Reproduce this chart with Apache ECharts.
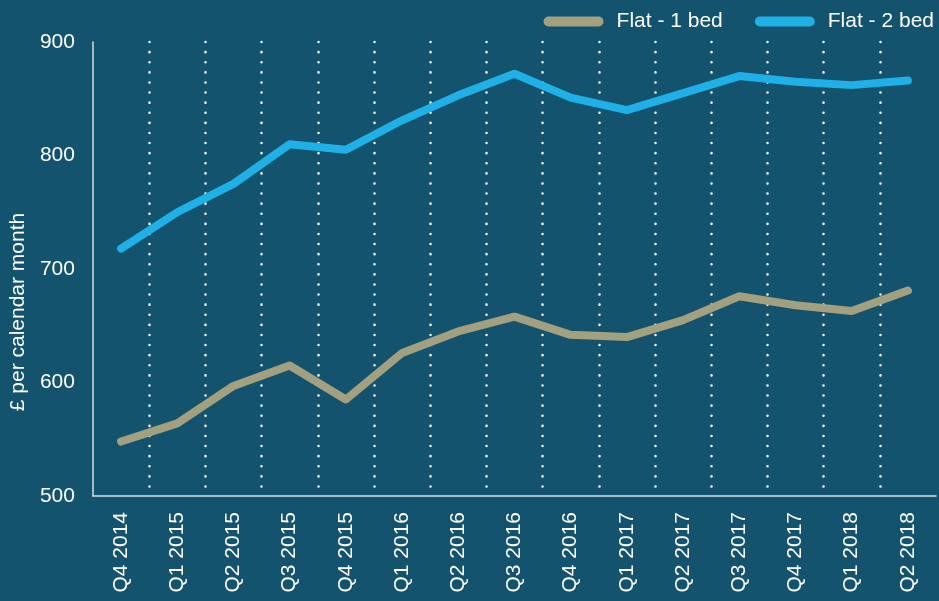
<!DOCTYPE html>
<html>
<head>
<meta charset="utf-8">
<script src="https://cdn.jsdelivr.net/npm/echarts@6/dist/echarts.min.js"></script>
<style>
html,body{margin:0;padding:0;background:#13536e;}
#main{width:939px;height:601px;}
</style>
</head>
<body>
<div id="main"></div>
<script>
var quarters = ['Q4 2014','Q1 2015','Q2 2015','Q3 2015','Q4 2015','Q1 2016','Q2 2016','Q3 2016','Q4 2016','Q1 2017','Q2 2017','Q3 2017','Q4 2017','Q1 2018','Q2 2018'];
var flat1 = [548, 564, 597, 615, 585, 626, 645, 658, 642, 640, 655, 676, 668, 663, 681];
var flat2 = [718, 750, 775, 810, 805, 831, 853, 872, 851, 840, 855, 870, 865, 862, 866];
var yTicks = [500, 600, 700, 800, 900];

var fontName = '"Liberation Sans", Arial, sans-serif';
var pill = 'path://M5,0 H55 A5,5 0 0 1 55,10 H5 A5,5 0 0 1 5,0 Z';
var myChart = echarts.init(document.getElementById('main'));

var option = {
	backgroundColor: '#13536e',
	textStyle: { fontFamily: fontName },
	legend: {
		right: 0,
		top: 6,
		itemWidth: 60,
		itemHeight: 10,
		itemGap: 32,
		icon: pill,
		textStyle: { color: '#ffffff', fontSize: 21, fontFamily: fontName, padding: [0, 0, 0, 8] },
		data: ['Flat - 1 bed', 'Flat - 2 bed']
	},
	grid: {
		left: 92,
		right: 3,
		top: 42,
		bottom: 105
	},
	xAxis: {
		type: 'category',
		boundaryGap: true,
		data: quarters,
		axisLine: { lineStyle: { color: '#d8dde0', width: 1.5 } },
		axisTick: { show: false },
		axisLabel: {
			color: '#ffffff',
			fontSize: 21,
			rotate: 90,
			margin: 16,
			interval: 0
		},
		splitLine: {
			show: true,
			interval: 0,
			showMinLine: false,
			showMaxLine: false,
			lineStyle: { color: '#ffffff', width: 2.5, type: [0.1, 10], cap: 'round' }
		}
	},
	yAxis: {
		type: 'value',
		min: yTicks[0],
		max: yTicks[yTicks.length - 1],
		interval: 100,
		name: '£ per calendar month',
		nameLocation: 'middle',
		nameGap: 62,
		nameRotate: 90,
		nameTextStyle: { color: '#ffffff', fontSize: 21, padding: [0, 0, 0, -86] },
		axisLine: { show: true, lineStyle: { color: '#d8dde0', width: 1.5 } },
		axisTick: { show: false },
		axisLabel: { color: '#ffffff', fontSize: 21, margin: 18 },
		splitLine: { show: false }
	},
	series: [
		{
			name: 'Flat - 1 bed',
			type: 'line',
			data: flat1,
			showSymbol: false,
			symbol: 'none',
			color: '#a3a080',
			lineStyle: { width: 8, cap: 'round', join: 'round', color: '#a3a080' }
		},
		{
			name: 'Flat - 2 bed',
			type: 'line',
			data: flat2,
			showSymbol: false,
			symbol: 'none',
			color: '#1eb0e6',
			lineStyle: { width: 8, cap: 'round', join: 'round', color: '#1eb0e6' }
		}
	]
};
myChart.setOption(option);
</script>
</body>
</html>
